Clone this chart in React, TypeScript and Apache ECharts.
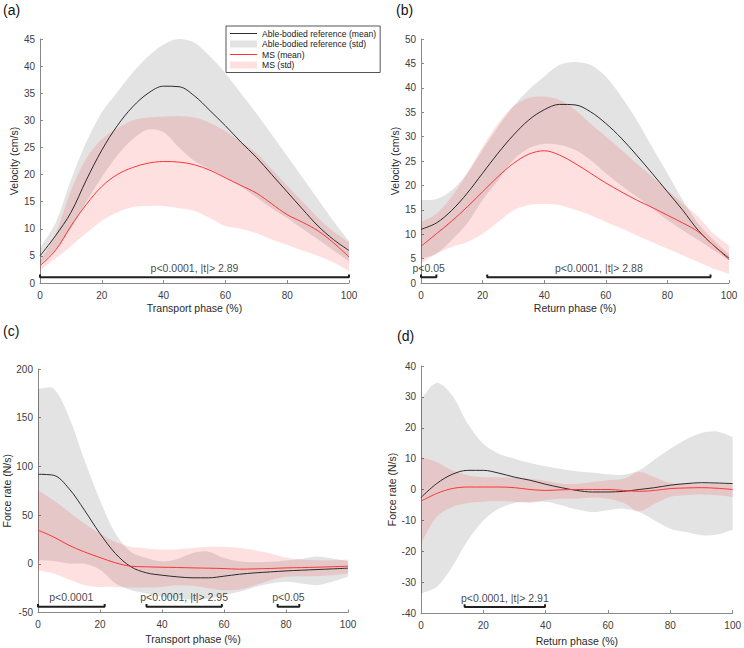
import React, { useEffect, useRef } from 'react';
import * as echarts from 'echarts';

// ---------- data ----------
const phase = [0, 5, 10, 15, 20, 25, 30, 35, 40, 45, 50, 55, 60, 65, 70, 75, 80, 85, 90, 95, 100];

// (a) Transport velocity
const aAbMean = [5, 8.7, 13, 19, 24.5, 29, 32.5, 35, 36.3, 36.2, 34.5, 31.8, 29, 26, 23.2, 20, 16.8, 13.6, 10.5, 8, 6];
const aAbUpper = [6.5, 11, 19, 26, 31.5, 35.2, 38.8, 41.8, 44, 45, 44.3, 41.8, 38.7, 35, 31.3, 27.4, 23.4, 19.4, 15.4, 11.4, 7.7];
const aAbLower = [3.5, 6, 10, 15, 19.5, 23.5, 26.5, 28.3, 27.8, 25, 22.5, 21, 19.5, 17.8, 15.8, 13.8, 12, 10, 8, 6, 4];
const aMsMean = [3.2, 6, 10.5, 14.5, 17.8, 20, 21.3, 22.1, 22.4, 22.3, 21.8, 20.8, 19.4, 18, 16.6, 14.6, 12.6, 11.2, 9.6, 7.4, 4.8];
const aMsUpper = [4, 9, 17, 23, 26.5, 28.5, 30, 30.5, 30.7, 30.8, 30.5, 29.5, 28, 26, 24, 21, 18, 15, 12, 9.5, 7.5];
const aMsLower = [2.4, 4.5, 6.8, 9.2, 11.5, 13, 14, 14.2, 14.2, 13.8, 13.3, 12, 10.5, 10, 9.2, 8, 7, 6, 5, 3.8, 2.2];
const aSig = [[0, 100]];
const aSigLabels = ['p<0.0001, |t|> 2.89'];

// (b) Return velocity
const bAbMean = [11, 12.3, 14.9, 18.4, 22.5, 26.6, 30.3, 33.4, 35.5, 36.6, 36.5, 35.1, 32.7, 29.7, 26.2, 22.5, 18.7, 14.9, 10.8, 7.7, 5.1];
const bAbUpper = [17, 17.2, 19, 22.5, 27.3, 32, 36.2, 39.6, 42.3, 44.7, 45.3, 44.7, 42.3, 38.2, 33.4, 27.9, 22.5, 17, 12.2, 8.8, 5.9];
const bAbLower = [5, 6, 8.8, 12.2, 17, 21, 25.2, 27.6, 28.5, 28.3, 27.3, 25.2, 22.5, 20, 17.7, 15.3, 12.9, 10.8, 8.8, 6.7, 4.7];
const bMsMean = [7.5, 10.1, 12.7, 15.6, 18.7, 21.8, 24.5, 26.4, 27.1, 26.2, 24.5, 22.5, 20.5, 18.7, 17, 15.5, 13.9, 12.3, 10.5, 7.7, 4.8];
const bMsUpper = [12.5, 14.2, 17.7, 22.5, 27.9, 32.7, 36.2, 37.9, 38.2, 37.5, 35.5, 32.7, 30, 27.3, 24.5, 21.8, 19, 16.3, 13.6, 10.1, 7.7];
const bMsLower = [4, 6, 7.4, 8.4, 10.1, 12.5, 14.9, 16, 16.2, 16, 15, 13.9, 12.5, 11.2, 9.8, 8.4, 7, 5.7, 4.3, 2.9, 1.9];
const bSig = [[0, 5], [21.5, 94]];
const bSigLabels = ['p<0.05', 'p<0.0001, |t|> 2.88'];

// (c) Transport force rate
const cAbMean = [91.9, 90.9, 77.2, 55, 31, 10.5, -3.1, -9.3, -11.7, -13.4, -14.4, -14.4, -12.7, -10.7, -9.3, -8.3, -7.3, -6.6, -5.9, -5.2, -4.5];
const cAbUpper = [179.8, 180, 150.7, 106.3, 65.3, 31, 12, 6, 2.5, 5, 11, 12.5, 6, 2.5, 1.5, 2, 3.5, 5, 7.5, 5.5, 3];
const cAbLower = [3.7, 3, 0.3, 0, -6, -20.2, -27.1, -30.5, -33.9, -35.6, -36.7, -35.6, -32.2, -28.8, -23.7, -20.2, -18.5, -20.2, -22, -18.5, -13.4];
const cMsMean = [34.5, 27.6, 19, 12.2, 6.4, 1, -2.5, -3.1, -3.5, -3.8, -4.2, -4.5, -4.9, -5.5, -5.2, -4.8, -4.2, -3.9, -3.5, -3, -2.5];
const cMsUpper = [75.5, 65.3, 53.3, 41.3, 31, 22.5, 17.4, 15.7, 14.6, 15, 16.3, 17.4, 17.4, 16.3, 14, 10.5, 6.4, 4.4, 3.7, 3.7, 4.4];
const cMsLower = [-6.6, -10, -16.1, -22, -23.7, -23.7, -24.4, -24.4, -23.7, -22, -22.6, -25.4, -27.1, -26.4, -22, -16.8, -13.4, -12.7, -12.7, -11.7, -10];
const cSig = [[0, 21.5], [35, 59.3], [77.3, 84.3]];
const cSigLabels = ['p<0.0001', 'p<0.0001, |t|> 2.95', 'p<0.05'];

// (d) Return force rate
const dAbMean = [-2.6, 1.9, 4.9, 6.2, 6.2, 5.3, 4, 3, 1.7, 0.6, -0.3, -0.8, -0.8, -0.6, 0, 0.6, 1.4, 1.9, 2.2, 2.1, 1.9];
const dAbUpper = [29.4, 34.5, 30.5, 21.3, 14.8, 11.6, 10, 8.6, 7.5, 6.6, 5.9, 5.5, 4.9, 4.8, 6.2, 9.7, 13.2, 16.2, 18.3, 18.8, 17];
const dAbLower = [-33.7, -31.6, -25, -16.5, -10, -6.2, -4.4, -4, -4, -5.1, -6.5, -7.3, -6.7, -6.2, -7.3, -10, -12.7, -13.8, -14.8, -14.6, -13];
const dMsMean = [-3.8, -1.3, 0.3, 0.8, 0.8, 0.8, 0.6, 0, -0.3, -0.1, 0, 0, 0, -0.3, -0.6, -0.3, 0.3, 0.5, 0.6, 0.4, 0];
const dMsUpper = [10.5, 8.9, 6.2, 4.6, 4, 4, 3.8, 3.5, 2.8, 1.9, 1.9, 2.4, 3, 3.5, 5.7, 4, 2.1, 1.9, 1.7, 1.9, 1.7];
const dMsLower = [-17.3, -8.9, -5.7, -4.4, -4, -3.7, -4, -4.4, -3.5, -3, -3, -2.6, -3, -4.4, -7, -4.6, -2.4, -1.9, -1.6, -1.9, -2.4];
const dSig = [[14, 39.8]];
const dSigLabels = ['p<0.0001, |t|> 2.91'];

const NAME_AB_MEAN = 'Able-bodied reference (mean)';
const NAME_AB_STD = 'Able-bodied reference (std)';
const NAME_MS_MEAN = 'MS (mean)';
const NAME_MS_STD = 'MS (std)';

// ---------- styles ----------
const FONT = '"Liberation Sans", Arial, Helvetica, sans-serif';
const GRAY_BAND = 'rgba(0,0,0,0.11)';
const PINK_BAND = 'rgba(255,0,0,0.12)';
const BLACK_LINE = '#2b2b2b';
const RED_LINE = '#ff3535';
const AXIS_COLOR = '#8a8a8a';
const SMOOTH_LINE = 0.35;
const SMOOTH_BAND = 0.33;
const LINE_ICON = 'path://M0,0H270V10H0Z';

const panels = [
  {
    tag: '(a)', tagPos: [3, 3],
    grid: { left: 40, top: 39, width: 309, height: 244 },
    yMin: 0, yMax: 45, yInt: 5, yName: 'Velocity (cm/s)', yGap: 20,
    xName: 'Transport phase (%)', xGap: 19,
    ab: [aAbMean, aAbUpper, aAbLower], ms: [aMsMean, aMsUpper, aMsLower],
    sig: aSig, sigLabels: aSigLabels,
  },
  {
    tag: '(b)', tagPos: [396, 3],
    grid: { left: 421, top: 39, width: 308, height: 244 },
    yMin: 0, yMax: 50, yInt: 5, yName: 'Velocity (cm/s)', yGap: 20,
    xName: 'Return phase (%)', xGap: 19,
    ab: [bAbMean, bAbUpper, bAbLower], ms: [bMsMean, bMsUpper, bMsLower],
    sig: bSig, sigLabels: bSigLabels,
  },
  {
    tag: '(c)', tagPos: [3, 324],
    grid: { left: 38, top: 369, width: 310, height: 243.5 },
    yMin: -50, yMax: 200, yInt: 50, yName: 'Force rate (N/s)', yGap: 25,
    xName: 'Transport phase (%)', xGap: 21,
    ab: [cAbMean, cAbUpper, cAbLower], ms: [cMsMean, cMsUpper, cMsLower],
    sig: cSig, sigLabels: cSigLabels,
  },
  {
    tag: '(d)', tagPos: [397, 329],
    grid: { left: 421, top: 366, width: 313, height: 247 },
    yMin: -40, yMax: 40, yInt: 10, yName: 'Force rate (N/s)', yGap: 24,
    xName: 'Return phase (%)', xGap: 22,
    ab: [dAbMean, dAbUpper, dAbLower], ms: [dMsMean, dMsUpper, dMsLower],
    sig: dSig, sigLabels: dSigLabels,
  },
];

function band(idx: number, name: string, lower: number[], upper: number[], color: string) {
  return {
    type: 'custom', name, xAxisIndex: idx, yAxisIndex: idx, silent: true, z: 1, clip: true,
    itemStyle: { color },
    data: phase.map((x, i) => [x, lower[i], upper[i]]),
    encode: { x: 0, y: [1, 2] },
    renderItem: (params: any, api: any) => {
      if (params.dataIndex !== 0) return null;
      const top = phase.map((x, i) => api.coord([x, upper[i]]));
      const bot = phase.map((x, i) => api.coord([x, lower[i]])).reverse();
      const pts = [top[0], ...top, top[top.length - 1], bot[0], ...bot, bot[bot.length - 1]];
      return {
        type: 'polygon',
        shape: { points: pts, smooth: SMOOTH_BAND },
        style: { fill: color },
        silent: true,
      };
    },
  };
}

function meanLine(idx: number, name: string, vals: number[], color: string) {
  return {
    type: 'line', name, xAxisIndex: idx, yAxisIndex: idx, smooth: SMOOTH_LINE,
    symbol: 'none', silent: true, color,
    data: phase.map((x, i) => [x, vals[i]]),
    lineStyle: { width: 1, color }, z: 3,
  };
}

function buildOption() {
  const grids: any[] = [];
  const xAxes: any[] = [];
  const yAxes: any[] = [];
  const series: any[] = [];
  const graphics: any[] = [];

  panels.forEach((p, idx) => {
    grids.push({ ...p.grid, containLabel: false });
    xAxes.push({
      gridIndex: idx, type: 'value', min: 0, max: 100, interval: 20,
      name: p.xName, nameLocation: 'middle', nameGap: p.xGap,
      nameTextStyle: { fontSize: 10.5, color: '#2a2a2a', fontFamily: FONT },
      axisLine: { onZero: false, lineStyle: { color: AXIS_COLOR, width: 1 } },
      axisTick: { inside: true, length: 3, lineStyle: { color: AXIS_COLOR } },
      axisLabel: { margin: 7, fontSize: 10, color: '#404040', fontFamily: FONT },
      splitLine: { show: false },
    });
    yAxes.push({
      gridIndex: idx, type: 'value', min: p.yMin, max: p.yMax, interval: p.yInt,
      name: p.yName, nameLocation: 'middle', nameGap: p.yGap,
      nameTextStyle: { fontSize: 10.5, color: '#2a2a2a', fontFamily: FONT },
      axisLine: { show: true, onZero: false, lineStyle: { color: AXIS_COLOR, width: 1 } },
      axisTick: { show: true, inside: true, length: 3, lineStyle: { color: AXIS_COLOR } },
      axisLabel: { margin: 5, fontSize: 10, color: '#404040', fontFamily: FONT },
      splitLine: { show: false },
    });

    series.push(band(idx, NAME_AB_STD, p.ab[2], p.ab[1], GRAY_BAND));
    series.push(band(idx, NAME_MS_STD, p.ms[2], p.ms[1], PINK_BAND));
    series.push(meanLine(idx, NAME_AB_MEAN, p.ab[0], BLACK_LINE));
    series.push(meanLine(idx, NAME_MS_MEAN, p.ms[0], RED_LINE));

    const range = p.yMax - p.yMin;
    const lvl = p.yMin + range * 0.024;
    const tick = range * 0.011;
    p.sig.forEach(([s, e]) => {
      series.push({
        type: 'line', name: 'sig' + idx, xAxisIndex: idx, yAxisIndex: idx,
        symbol: 'none', silent: true, z: 5,
        data: [[s, lvl + tick], [s, lvl], [e, lvl], [e, lvl + tick]],
        lineStyle: { color: '#1f1f1f', width: 2 },
      });
    });
    series.push({
      type: 'scatter', name: 'sigLabel' + idx, xAxisIndex: idx, yAxisIndex: idx,
      symbolSize: 0.1, silent: true, z: 6,
      itemStyle: { color: 'transparent' },
      data: p.sig.map(([s, e], k) => ({
        value: [(s + e) / 2, lvl],
        label: { formatter: p.sigLabels[k] },
      })),
      label: {
        show: true, position: 'top', distance: 4,
        fontSize: 10.5, color: '#111', fontFamily: FONT,
      },
    });

    graphics.push({
      type: 'text', left: p.tagPos[0], top: p.tagPos[1],
      style: { text: p.tag, fontSize: 14, fill: '#111', fontFamily: FONT },
    });
  });

  return {
    animation: false,
    backgroundColor: '#ffffff',
    grid: grids,
    xAxis: xAxes,
    yAxis: yAxes,
    series,
    graphic: graphics,
    legend: {
      left: 226, top: 26, orient: 'vertical',
      padding: [3, 4, 3, 4], itemGap: 1.5,
      itemWidth: 27, itemHeight: 7,
      symbolKeepAspect: true,
      backgroundColor: '#ffffff',
      borderColor: '#555', borderWidth: 1, borderRadius: 0,
      selectedMode: false,
      textStyle: { fontSize: 8.6, color: '#1a1a1a', fontFamily: FONT, lineHeight: 9 },
      data: [
        { name: NAME_AB_MEAN, icon: LINE_ICON, itemStyle: { color: BLACK_LINE, opacity: 1, borderWidth: 0 } },
        { name: NAME_AB_STD, icon: 'rect', itemStyle: { color: GRAY_BAND, opacity: 1, borderWidth: 0 } },
        { name: NAME_MS_MEAN, icon: LINE_ICON, itemStyle: { color: RED_LINE, opacity: 1, borderWidth: 0 } },
        { name: NAME_MS_STD, icon: 'rect', itemStyle: { color: PINK_BAND, opacity: 1, borderWidth: 0 } },
      ],
    },
  };
}

export default function App() {
  const ref = useRef<HTMLDivElement>(null);
  useEffect(() => {
    if (!ref.current) return;
    const chart = echarts.init(ref.current, undefined, { renderer: 'svg' });
    chart.setOption(buildOption() as any);
    return () => chart.dispose();
  }, []);
  return (
    <div
      ref={ref}
      style={{ position: 'fixed', left: 0, top: 0, width: 744, height: 648, background: '#fff' }}
    />
  );
}
